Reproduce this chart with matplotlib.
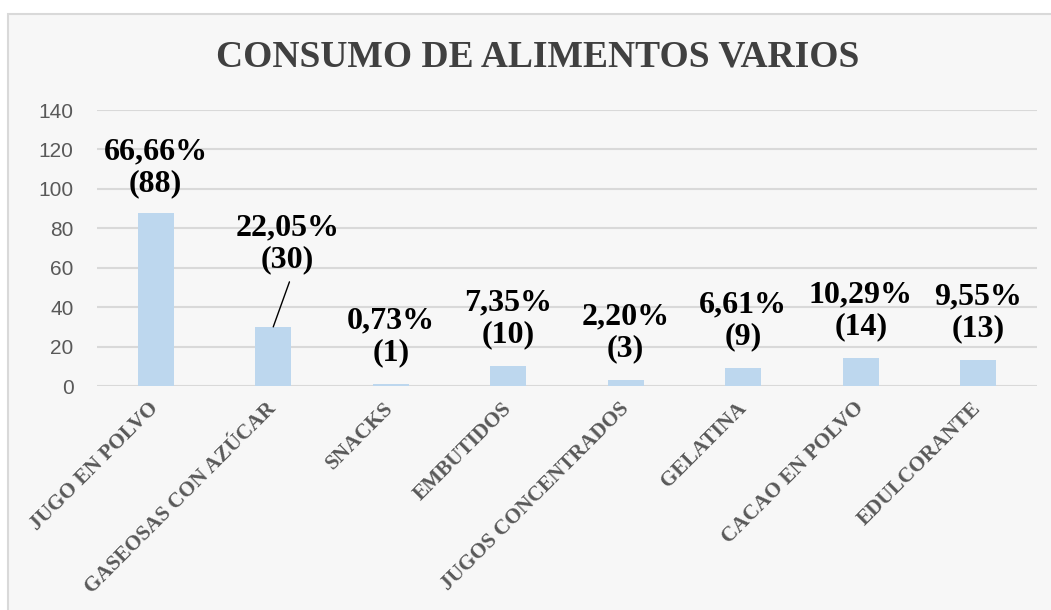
import matplotlib.pyplot as plt
from matplotlib.patches import Rectangle

categories = [
    "JUGO EN POLVO",
    "GASEOSAS CON AZÚCAR",
    "SNACKS",
    "EMBUTIDOS",
    "JUGOS CONCENTRADOS",
    "GELATINA",
    "CACAO EN POLVO",
    "EDULCORANTE",
]
counts = [88, 30, 1, 10, 3, 9, 14, 13]
percents = ["66,66%", "22,05%", "0,73%", "7,35%", "2,20%", "6,61%", "10,29%", "9,55%"]
yticks = [0, 20, 40, 60, 80, 100, 120, 140]

serif = "Liberation Serif"

fig = plt.figure(figsize=(10.51, 6.10), dpi=100)
fig.patch.set_facecolor("white")

# chart area box
fig.patches.append(Rectangle((8 / 1051, -0.01), 1.02, 1 - 14 / 610 + 0.01,
                             transform=fig.transFigure, facecolor="#f7f7f7",
                             edgecolor="#d9d9d9", linewidth=1.5, zorder=-5))

ax = fig.add_axes([97 / 1051, 1 - 386 / 610, (1037 - 97) / 1051, (386 - 110) / 610])
ax.set_facecolor("none")
ax.set_zorder(2)

x = list(range(len(categories)))
ax.bar(x, counts, width=0.31, color="#bdd7ee", zorder=3)

ax.set_xlim(-0.5, len(categories) - 0.5)
ax.set_ylim(0, 140)
ax.set_yticks(yticks)
ax.yaxis.grid(True, color="#d9d9d9", linewidth=1.5, zorder=0)
ax.set_axisbelow(True)
for s in ax.spines.values():
    s.set_visible(False)
ax.tick_params(axis="both", length=0)
ax.tick_params(axis="y", pad=17, labelsize=15, labelcolor="#595959")
for t in ax.get_yticklabels():
    t.set_fontfamily("Liberation Sans")

ax.set_xticks(x)
ax.set_xticklabels(categories, rotation=45, ha="right", va="center",
                   rotation_mode="anchor", fontfamily=serif, fontweight="bold",
                   fontsize=15.3, color="#595959")
ax.tick_params(axis="x", pad=14)

# data labels
for i, (c, p) in enumerate(zip(counts, percents)):
    txt = f"{p}\n({c})"
    if i == 1:
        ax.annotate(txt, xy=(i, c), xytext=(10, 60), textcoords="offset points",
                    ha="center", va="center", fontfamily=serif, fontweight="bold",
                    fontsize=23, linespacing=1.12,
                    arrowprops=dict(arrowstyle="-", color="black", lw=1,
                                    shrinkA=4, shrinkB=0,
                                    relpos=(0.55, 0.0)))
    else:
        dy = 32 if i == 0 else 34
        ax.annotate(txt, xy=(i, c), xytext=(0, dy), textcoords="offset points",
                    ha="center", va="center", fontfamily=serif, fontweight="bold",
                    fontsize=23, linespacing=1.12)

fig.text(537.5 / 1051, 1 - 57 / 610, "CONSUMO DE ALIMENTOS VARIOS",
         ha="center", va="center", fontfamily=serif, fontweight="bold",
         fontsize=27, color="#404040")

fig.savefig("out.png", dpi=100)
